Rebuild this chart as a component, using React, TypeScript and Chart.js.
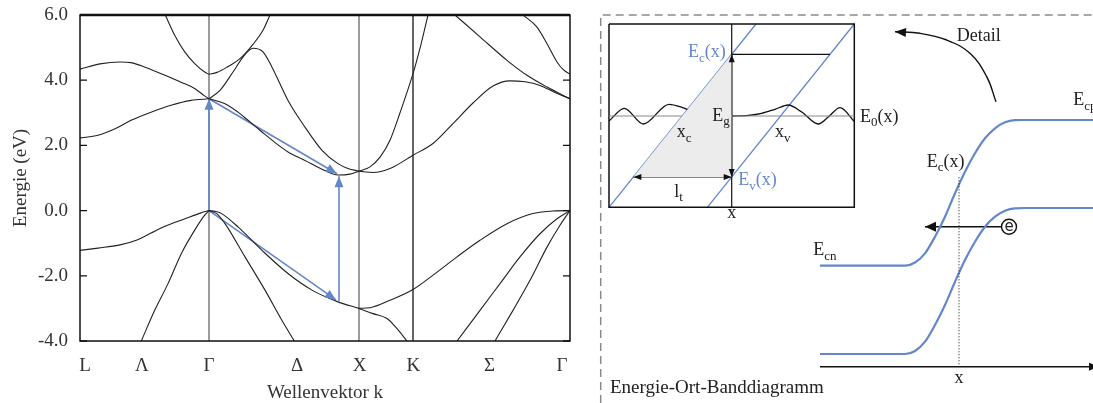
import React, { useEffect, useRef } from 'react';
import { Chart, registerables } from 'chart.js';

Chart.register(...registerables);

const SERIF = '"Liberation Serif", "Times New Roman", serif';
const BLUE = '#6487cc';
const INK = '#222222';
const TEXT = '#333333';

// ---------- Band structure: k along L–Λ–Γ–Δ–X–K–Σ–Γ, energy in eV ----------
const kLabelPositions = [5, 62, 129, 217, 279.5, 333.3, 409.5, 482];
const kLabels = ['L', 'Λ', 'Γ', 'Δ', 'X', 'K', 'Σ', 'Γ'];
const symmetryLines = [129, 279, 333];
const symmetryLineColors = ['#7a7a7a', '#7a7a7a', '#333333'];
const energyRange = [-4, 6];

// L – Γ
const cb1LG = [[85.3, 6.0], [94.7, 5.38], [104.7, 4.87], [114.7, 4.51], [124.7, 4.25], [129, 4.18]];
const cb2LG = [[0, 4.34], [20, 4.5], [40, 4.56], [51, 4.54], [65, 4.4], [85, 4.15], [101, 3.94], [115, 3.74], [125, 3.51], [129, 3.43]];
const cb3LG = [[0, 2.23], [18, 2.31], [35, 2.51], [51, 2.77], [71, 3.02], [91, 3.23], [111, 3.38], [129, 3.43]];
const vb1LG = [[0, -1.22], [18, -1.15], [39, -1.06], [57, -0.9], [71, -0.69], [85, -0.48], [105, -0.25], [121, -0.07], [129, 0]];
const vb2LG = [[61.3, -4.0], [74.7, -3.06], [88, -2.24], [101.3, -1.32], [114.7, -0.6], [124.7, -0.14], [129, 0]];
// Γ – X
const cb1GX = [[129, 4.18], [137, 4.24], [147, 4.4], [160, 4.66], [173, 5.1], [183, 5.53], [190, 6.0]];
const cb2GX = [[129, 3.43], [140, 3.69], [153, 4.25], [163, 4.71], [173, 4.98], [183, 4.87], [192, 4.4], [208, 3.38], [225, 2.56], [242, 1.85], [258, 1.44], [268, 1.29], [279, 1.21]];
const cb3GX = [[129, 3.43], [145, 3.28], [158, 3.02], [168, 2.77], [182, 2.41], [192, 2.16], [208, 1.8], [225, 1.54], [242, 1.27], [258, 1.09], [270, 1.12], [279, 1.21]];
const vb1GX = [[129, 0], [136, -0.03], [142, -0.1], [158, -0.5], [182, -1.22], [208, -1.93], [232, -2.44], [258, -2.8], [279, -3.0]];
const vb2GX = [[129, 0], [137, -0.1], [145, -0.4], [165, -1.42], [185, -2.44], [202, -3.37], [214.3, -4.0]];
// X – K – Γ
const cb3XG = [[279, 1.21], [290, 1.34], [300, 1.64], [310, 2.16], [320, 3.0], [333, 4.2], [341, 5.1], [348, 6.0]];
const cb2XG = [[279, 1.21], [293, 1.17], [310, 1.29], [333, 1.7], [353, 2.06], [373, 2.67], [393, 3.3], [413, 3.82], [430, 3.98], [445, 3.95], [460, 3.84], [475, 3.62], [490, 3.43]];
const cb4XG = [[375, 6.0], [400, 5.33], [427, 4.61], [447, 4.15], [467, 3.79], [490, 3.43]];
const cb5XG = [[443, 6.0], [457, 5.63], [467, 5.12], [477, 4.56], [483, 4.33], [490, 4.18]];
const vb1XK = [[279, -3.0], [293, -3.16], [307, -3.31], [317, -3.62], [327, -4.0]];
const vb3XG = [[279, -3.0], [290, -2.98], [310, -2.75], [333, -2.42], [353, -1.98], [377, -1.42], [400, -0.91], [427, -0.4], [453, -0.09], [473, -0.01], [490, 0]];
const vb4XG = [[377, -4.0], [400, -3.06], [420, -2.24], [440, -1.42], [460, -0.71], [477, -0.25], [490, 0]];
const vb5XG = [[415, -4.0], [433, -3.06], [450, -2.14], [467, -1.12], [480, -0.45], [490, 0]];

const bandList = [cb1LG, cb2LG, cb3LG, vb1LG, vb2LG, cb1GX, cb2GX, cb3GX, vb1GX, vb2GX, cb3XG, cb2XG, cb4XG, cb5XG, vb1XK, vb3XG, vb4XG, vb5XG];

// optical transitions [from, to]
const directAbsorption = [[129, 0], [129, 3.43]];
const relaxToValley = [[129, 3.43], [257, 1.13]];
const indirectGap = [[259, -2.78], [259, 1.05]];
const holeRelax = [[129, 0], [256, -2.74]];
const transitionList = [directAbsorption, relaxToValley, indirectGap, holeRelax];

// ---------- Schematic panel (diagram units, y downwards) ----------
const frameDash = [[5.7, 403], [5.7, 15], [498, 15]];
const insetBox = [[14, 24], [259.3, 24], [259.3, 207.3], [14, 207.3], [14, 24]];
const insetE0 = [[14, 116], [259.3, 116]];
const insetEc = [[14, 207.3], [161, 24]];
const insetEv = [[112.3, 207.3], [259.3, 24]];
const insetPosition = [[136.7, 24], [136.7, 207.3]];
const insetEcLevel = [[136.7, 54.3], [235, 54.3]];
const gapArrow = [[136.7, 54.3], [136.7, 176.9]];
const tunnelArrow = [[38.4, 176.9], [136.7, 176.9]];
const tunnelShade = [[38.4, 176.9], [136.7, 54.3]];
const waveLeft = [[14, 121], [29.3, 108.3], [48.3, 124], [74, 104.3], [87, 107.3], [100, 112.7], [113.3, 115.3]];
const waveRight = [[136.7, 116], [153.3, 115.3], [166.7, 113.3], [180, 109.3], [193.3, 105], [206.7, 112], [223.3, 124], [233.3, 117], [245, 107.7], [259.3, 121.5]];

const ecProfile = [[225, 265.7], [310, 265.7], [320, 262.5], [330, 253.3], [340, 236.7], [350, 216.7], [360, 193.3], [370, 171.7], [380, 153.3], [390, 138.3], [400, 128.3], [410, 122.3], [420, 120.2], [430, 120], [498, 120]];
const evProfile = [[225, 354], [310, 354], [320, 351], [330, 341.7], [340, 325], [350, 305], [360, 281.7], [370, 260], [380, 241.7], [390, 226.7], [400, 216.7], [410, 210.7], [420, 208.3], [430, 208], [498, 208]];
const positionAxis = [[225, 366.7], [504, 366.7]];
const positionMarker = [[364, 177.3], [364, 366.7]];
const electronPath = [[406.7, 226.7], [330, 226.7]];
const electronAt = [[414, 226.7]];
const detailPath = [[401, 101.7], [391.7, 76.7], [375, 53.3], [351.7, 40], [325, 33.3], [300, 31.7]];

// [main, subscript, tail]
const schematicTexts = [
  ['E', 'c', '(x)'], ['E', 'g', ''], ['E', '0', '(x)'], ['x', 'c', ''], ['x', 'v', ''],
  ['E', 'v', '(x)'], ['l', 't', ''], ['Detail', '', ''], ['E', 'cp', ''], ['E', 'c', '(x)'],
  ['E', 'cn', ''], ['Energie-Ort-Banddiagramm', '', ''],
];
const schematicTextAnchors = [
  [93, 57.3], [117.3, 120.7], [265, 121.7], [81.7, 137], [180, 137],
  [143.3, 185], [79.3, 196.5], [361.7, 40.7], [478.3, 105], [331.7, 166.7],
  [218.3, 255], [15, 392.7],
];
const schematicTextColors = [BLUE, INK, INK, INK, INK, BLUE, INK, INK, INK, INK, INK, INK];
const centeredTexts = ['x', 'x'];
const centeredTextAnchors = [[136.7, 218.3], [364, 383]];

const pts = (a: number[][]) => a.map(([x, y]) => ({ x, y }));

function arrowHead(ctx: CanvasRenderingContext2D, x0: number, y0: number, x1: number, y1: number, len: number, half: number, color: string) {
  const a = Math.atan2(y1 - y0, x1 - x0);
  const c = Math.cos(a), s = Math.sin(a);
  ctx.beginPath();
  ctx.moveTo(x1, y1);
  ctx.lineTo(x1 - len * c + half * s, y1 - len * s - half * c);
  ctx.lineTo(x1 - len * c - half * s, y1 - len * s + half * c);
  ctx.closePath();
  ctx.fillStyle = color;
  ctx.fill();
}

const bandDecor = {
  id: 'bandDecor',
  beforeDatasetsDraw(chart: any) {
    const { ctx, chartArea: ca, scales } = chart;
    ctx.save();
    ctx.lineWidth = 1.5;
    symmetryLines.forEach((k, i) => {
      const x = scales.x.getPixelForValue(k);
      ctx.strokeStyle = symmetryLineColors[i];
      ctx.beginPath();
      ctx.moveTo(x, ca.top);
      ctx.lineTo(x, ca.bottom);
      ctx.stroke();
    });
    ctx.restore();
  },
  afterDatasetsDraw(chart: any) {
    const { ctx, chartArea: ca, scales } = chart;
    ctx.save();
    transitionList.forEach(([a, b]) => {
      arrowHead(ctx, scales.x.getPixelForValue(a[0]), scales.y.getPixelForValue(a[1]),
        scales.x.getPixelForValue(b[0]), scales.y.getPixelForValue(b[1]), 11, 4.5, BLUE);
    });
    ctx.strokeStyle = '#111';
    ctx.lineWidth = 1.5;
    ctx.strokeRect(ca.left, ca.top, ca.right - ca.left, ca.bottom - ca.top);
    ctx.lineWidth = 2.5;
    ctx.beginPath();
    ctx.moveTo(ca.left, ca.top);
    ctx.lineTo(ca.right, ca.top);
    ctx.stroke();
    ctx.lineWidth = 1.3;
    scales.y.ticks.forEach((t: any) => {
      const y = scales.y.getPixelForValue(t.value);
      ctx.beginPath();
      ctx.moveTo(ca.left, y); ctx.lineTo(ca.left + 7, y);
      ctx.moveTo(ca.right, y); ctx.lineTo(ca.right - 7, y);
      ctx.stroke();
    });
    ctx.restore();
  },
};

const schematicDecor = {
  id: 'schematicDecor',
  afterDatasetsDraw(chart: any) {
    const { ctx, scales } = chart;
    const px = (p: number[]) => [scales.x.getPixelForValue(p[0]), scales.y.getPixelForValue(p[1])];
    const head = (from: number[], to: number[], len: number, half: number) => {
      const [x0, y0] = px(from);
      const [x1, y1] = px(to);
      arrowHead(ctx, x0, y0, x1, y1, len, half, '#111');
    };
    ctx.save();
    head(gapArrow[1], gapArrow[0], 8, 3);
    head(gapArrow[0], gapArrow[1], 8, 3);
    head(tunnelArrow[1], tunnelArrow[0], 8, 3);
    head(tunnelArrow[0], tunnelArrow[1], 8, 3);
    head(positionAxis[0], positionAxis[1], 10, 4);
    head(electronPath[0], electronPath[1], 11, 5);
    head(detailPath[detailPath.length - 2], detailPath[detailPath.length - 1], 11, 4.5);

    ctx.textBaseline = 'alphabetic';
    ctx.textAlign = 'left';
    schematicTexts.forEach(([main, sub, tail], i) => {
      const [x, y] = px(schematicTextAnchors[i]);
      const big = main.length > 6 ? 19 : 18;
      ctx.fillStyle = schematicTextColors[i];
      ctx.font = `${big}px ${SERIF}`;
      ctx.fillText(main, x, y);
      let cx = x + ctx.measureText(main).width;
      if (sub) {
        ctx.font = `13px ${SERIF}`;
        ctx.fillText(sub, cx, y + 4.5);
        cx += ctx.measureText(sub).width;
      }
      if (tail) {
        ctx.font = `${big}px ${SERIF}`;
        ctx.fillText(tail, cx, y);
      }
    });
    ctx.textAlign = 'center';
    ctx.fillStyle = INK;
    ctx.font = `18px ${SERIF}`;
    centeredTexts.forEach((t, i) => {
      const [x, y] = px(centeredTextAnchors[i]);
      ctx.fillText(t, x, y);
    });
    // electron symbol
    const [ex, ey] = px(electronAt[0]);
    ctx.font = `15px ${'"DejaVu Sans", sans-serif'}`;
    ctx.textBaseline = 'middle';
    ctx.fillText('e', ex, ey);
    ctx.restore();
  },
};

const line = (data: number[][], color: string, width: number, extra: any = {}) => ({
  data: pts(data), showLine: true, borderColor: color, borderWidth: width,
  pointRadius: 0, pointHoverRadius: 0, fill: false, ...extra,
});

export default function App() {
  const leftRef = useRef<HTMLCanvasElement>(null);
  const rightRef = useRef<HTMLCanvasElement>(null);

  useEffect(() => {
    const bandDatasets = bandList.map((b) => line(b, INK, 1.1, { cubicInterpolationMode: 'monotone' }));
    const arrowDatasets = transitionList.map((t) => line(t, BLUE, 1.6));

    const left = new Chart(leftRef.current!, {
      type: 'scatter',
      data: { datasets: [...bandDatasets, ...arrowDatasets] as any },
      options: {
        responsive: false,
        animation: false,
        events: [],
        layout: { autoPadding: false, padding: { top: 15, right: 25, left: 0, bottom: 0 } },
        plugins: { legend: { display: false }, tooltip: { enabled: false } },
        scales: {
          x: {
            type: 'linear', min: 0, max: 490,
            grid: { display: false, drawTicks: false },
            border: { display: false },
            afterBuildTicks: (s: any) => { s.ticks = kLabelPositions.map((v) => ({ value: v })); },
            afterFit: (s: any) => { s.height = 62; s.paddingLeft = 0; s.paddingRight = 0; },
            ticks: {
              autoSkip: false, maxRotation: 0, padding: 14, color: TEXT,
              font: { family: SERIF, size: 19 },
              callback: (_v: any, i: number) => kLabels[i],
            },
            title: { display: true, text: 'Wellenvektor k', color: TEXT, font: { family: SERIF, size: 19, lineHeight: 1 }, padding: { top: 0, bottom: 0 } },
          },
          y: {
            type: 'linear', min: energyRange[0], max: energyRange[1],
            grid: { display: false, drawTicks: false },
            border: { display: false },
            afterFit: (s: any) => { s.width = 80; s.paddingTop = 0; s.paddingBottom = 0; },
            ticks: {
              stepSize: 2, padding: 12, color: TEXT,
              font: { family: SERIF, size: 19 },
              callback: (v: any) => Number(v).toFixed(1),
            },
            title: { display: true, text: 'Energie (eV)', color: TEXT, font: { family: SERIF, size: 19, lineHeight: 1 }, padding: { top: 12, bottom: 0 } },
          },
        },
      } as any,
      plugins: [bandDecor],
    });

    const right = new Chart(rightRef.current!, {
      type: 'scatter',
      data: {
        datasets: [
          { data: pts(tunnelShade), showLine: true, borderWidth: 0, pointRadius: 0, pointHoverRadius: 0, fill: { value: tunnelShade[0][1] }, backgroundColor: '#ececec' },
          line(frameDash, '#8a8a8a', 1.5, { borderDash: [8, 5] }),
          line(insetE0, '#8a8a8a', 1.2),
          line(insetBox, '#111', 1.5),
          line(insetPosition, '#111', 1.2),
          line(insetEcLevel, '#111', 1.2),
          line(gapArrow, '#111', 1.3),
          line(tunnelArrow, '#111', 1.3),
          line(waveLeft, '#111', 1.3, { cubicInterpolationMode: 'monotone' }),
          line(waveRight, '#111', 1.3, { cubicInterpolationMode: 'monotone' }),
          line(insetEc, BLUE, 1.3),
          line(insetEv, BLUE, 1.3),
          line(positionMarker, '#111', 1, { borderDash: [1, 2] }),
          line(positionAxis, '#111', 1.5),
          line(ecProfile, BLUE, 2.2, { cubicInterpolationMode: 'monotone' }),
          line(evProfile, BLUE, 2.2, { cubicInterpolationMode: 'monotone' }),
          line(electronPath, '#111', 1.4),
          line(detailPath, '#111', 1.4, { tension: 0.4 }),
          { data: pts(electronAt), pointRadius: 7.5, pointHoverRadius: 7.5, pointBorderWidth: 1.4, pointBorderColor: '#111', pointBackgroundColor: '#fff' },
        ] as any,
      },
      options: {
        responsive: false,
        animation: false,
        events: [],
        layout: { autoPadding: false, padding: 0 },
        plugins: { legend: { display: false }, tooltip: { enabled: false } },
        scales: {
          x: { type: 'linear', min: 0, max: 498, display: false },
          y: { type: 'linear', min: 0, max: 403, reverse: true, display: false },
        },
      } as any,
      plugins: [schematicDecor],
    });

    return () => { left.destroy(); right.destroy(); };
  }, []);

  return (
    <div style={{ position: 'fixed', left: 0, top: 0, width: 1093, height: 403, background: '#fff' }}>
      <canvas ref={leftRef} width={595} height={403} style={{ position: 'absolute', left: 0, top: 0 }} />
      <canvas ref={rightRef} width={498} height={403} style={{ position: 'absolute', left: 595, top: 0 }} />
    </div>
  );
}
